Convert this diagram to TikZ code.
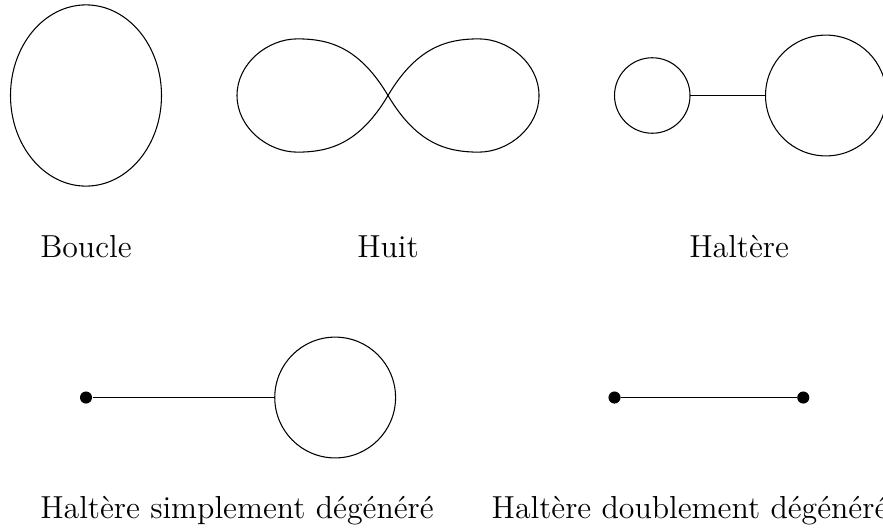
\documentclass[tikz,border=0pt]{standalone}
\usepackage{tikz}

\begin{document}
\begin{tikzpicture}[
    sommet/.style={circle, fill=black, inner sep=0pt, minimum size=0.16cm},
    boule/.style={circle, draw, inner sep=0pt, outer sep=0pt},
    legende/.style={font=\large}]
    \useasboundingbox (-1.139,-5.755) rectangle (10.556,1.265);

    % Boucle
    \draw (0,0) ellipse (1cm and 1.2cm);
    \node[legende] (boucle) at (0,-2) {Boucle};

    % Huit
    \draw (4,0) .. controls (3.62,0.64) and (3.22,0.75) .. (2.8,0.75)
          .. controls (2.4,0.75) and (2,0.42) .. (2,0)
          .. controls (2,-0.42) and (2.4,-0.75) .. (2.8,-0.75)
          .. controls (3.22,-0.75) and (3.62,-0.64) .. (4,0)
          .. controls (4.38,0.64) and (4.78,0.75) .. (5.2,0.75)
          .. controls (5.6,0.75) and (6,0.42) .. (6,0)
          .. controls (6,-0.42) and (5.6,-0.75) .. (5.2,-0.75)
          .. controls (4.78,-0.75) and (4.38,-0.64) .. (4,0);
    \node[legende] (huit) at (4,-2) {Huit};

    % Haltère
    \node[boule, minimum size=1cm] (petite) at (7.5,0) {};
    \node[boule, minimum size=1.6cm] (grande) at (9.8,0) {};
    \draw (petite) -- (grande);
    \node[legende] (haltere) at (8.65,-2) {Haltère};

    % Haltère simplement dégénéré
    \node[sommet] (s1) at (0,-4) {};
    \node[boule, minimum size=1.6cm] (s2) at (3.3,-4) {};
    \draw (s1) -- (s2);
    \node[legende] (simple) at (2,-5.5) {Haltère simplement dégénéré};

    % Haltère doublement dégénéré
    \node[sommet] (d1) at (7,-4) {};
    \node[sommet] (d2) at (9.5,-4) {};
    \draw (d1) -- (d2);
    \node[legende] (double) at (8,-5.5) {Haltère doublement dégénéré};
\end{tikzpicture}
\end{document}
